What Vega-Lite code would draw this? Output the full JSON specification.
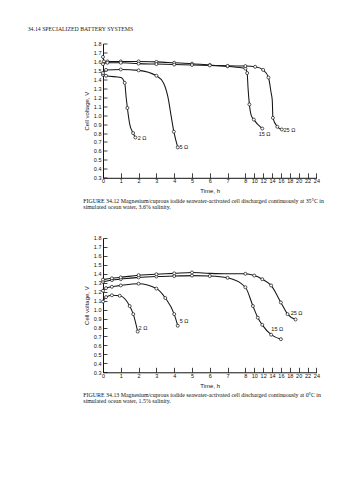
{
  "$schema": "https://vega.github.io/schema/vega-lite/v6.json",
  "background": "white",
  "padding": {"left": 27, "top": 25.5, "right": 5, "bottom": 5},
  "title": {"text": "34.14    SPECIALIZED BATTERY SYSTEMS", "anchor": "start", "frame": "group", "dx": -75.3, "font": "Liberation Serif", "fontSize": 5.8, "fontWeight": "normal", "color": "#222", "offset": 10},
  "config": {
    "view": {"stroke": null},
    "axis": {"labelFont": "Liberation Sans", "titleFont": "Liberation Sans", "labelFontSize": 5.5, "titleFontSize": 6, "titleFontWeight": "normal", "domainColor": "#111", "tickColor": "#111", "labelColor": "#111", "titleColor": "#111", "grid": false, "domainWidth": 1, "tickWidth": 0.8},
    "text": {"font": "Liberation Sans", "fontSize": 5.5, "color": "#111"}
  },
  "datasets": {
    "top": [
      {"load": "2", "t": 0, "v": 1.45, "m": 1}, {"load": "2", "t": 0.17, "v": 1.44, "m": 1}, {"load": "2", "t": 1.0, "v": 1.42, "m": 0}, {"load": "2", "t": 1.22, "v": 1.36, "m": 1}, {"load": "2", "t": 1.3, "v": 1.2, "m": 0}, {"load": "2", "t": 1.37, "v": 1.08, "m": 1}, {"load": "2", "t": 1.5, "v": 0.9, "m": 0}, {"load": "2", "t": 1.69, "v": 0.8, "m": 1}, {"load": "2", "t": 1.82, "v": 0.75, "m": 1},
      {"load": "5", "t": 0, "v": 1.47, "m": 1}, {"load": "5", "t": 0.17, "v": 1.505, "m": 1}, {"load": "5", "t": 1, "v": 1.51, "m": 1}, {"load": "5", "t": 2, "v": 1.5, "m": 1}, {"load": "5", "t": 3, "v": 1.44, "m": 1}, {"load": "5", "t": 3.4, "v": 1.36, "m": 0}, {"load": "5", "t": 3.65, "v": 1.2, "m": 0}, {"load": "5", "t": 3.82, "v": 1.0, "m": 0}, {"load": "5", "t": 3.98, "v": 0.815, "m": 1}, {"load": "5", "t": 4.2, "v": 0.64, "m": 1},
      {"load": "15", "t": 0, "v": 1.65, "m": 1}, {"load": "15", "t": 0.05, "v": 1.6, "m": 1}, {"load": "15", "t": 0.25, "v": 1.6, "m": 1}, {"load": "15", "t": 1, "v": 1.6, "m": 1}, {"load": "15", "t": 2, "v": 1.6, "m": 1}, {"load": "15", "t": 3, "v": 1.595, "m": 1}, {"load": "15", "t": 4, "v": 1.585, "m": 1}, {"load": "15", "t": 5, "v": 1.575, "m": 1}, {"load": "15", "t": 6, "v": 1.56, "m": 1}, {"load": "15", "t": 7, "v": 1.545, "m": 1}, {"load": "15", "t": 8, "v": 1.52, "m": 1}, {"load": "15", "t": 8.4, "v": 1.47, "m": 1}, {"load": "15", "t": 8.6, "v": 1.3, "m": 0}, {"load": "15", "t": 8.9, "v": 1.12, "m": 1}, {"load": "15", "t": 9.3, "v": 1.0, "m": 0}, {"load": "15", "t": 9.9, "v": 0.95, "m": 1}, {"load": "15", "t": 11.8, "v": 0.85, "m": 1},
      {"load": "25", "t": 0, "v": 1.57, "m": 1}, {"load": "25", "t": 0.25, "v": 1.585, "m": 1}, {"load": "25", "t": 1, "v": 1.585, "m": 1}, {"load": "25", "t": 2, "v": 1.575, "m": 1}, {"load": "25", "t": 3, "v": 1.57, "m": 1}, {"load": "25", "t": 4, "v": 1.565, "m": 1}, {"load": "25", "t": 5, "v": 1.56, "m": 1}, {"load": "25", "t": 6, "v": 1.555, "m": 1}, {"load": "25", "t": 7, "v": 1.55, "m": 1}, {"load": "25", "t": 8, "v": 1.548, "m": 1}, {"load": "25", "t": 10.2, "v": 1.54, "m": 1}, {"load": "25", "t": 12, "v": 1.505, "m": 1}, {"load": "25", "t": 13.2, "v": 1.42, "m": 1}, {"load": "25", "t": 13.8, "v": 1.25, "m": 0}, {"load": "25", "t": 14.05, "v": 1.17, "m": 0}, {"load": "25", "t": 14.2, "v": 0.97, "m": 1}, {"load": "25", "t": 15.2, "v": 0.87, "m": 1}, {"load": "25", "t": 16.2, "v": 0.84, "m": 1}
    ],
    "bottom": [
      {"load": "2", "t": 0, "v": 1.09, "m": 1}, {"load": "2", "t": 0.17, "v": 1.14, "m": 1}, {"load": "2", "t": 0.5, "v": 1.16, "m": 1}, {"load": "2", "t": 0.94, "v": 1.155, "m": 1}, {"load": "2", "t": 1.5, "v": 1.04, "m": 1}, {"load": "2", "t": 1.7, "v": 0.95, "m": 1}, {"load": "2", "t": 1.95, "v": 0.755, "m": 1},
      {"load": "5", "t": 0, "v": 1.21, "m": 1}, {"load": "5", "t": 0.17, "v": 1.24, "m": 1}, {"load": "5", "t": 0.5, "v": 1.255, "m": 1}, {"load": "5", "t": 1, "v": 1.27, "m": 1}, {"load": "5", "t": 2, "v": 1.29, "m": 1}, {"load": "5", "t": 3, "v": 1.235, "m": 1}, {"load": "5", "t": 3.5, "v": 1.13, "m": 1}, {"load": "5", "t": 4, "v": 0.95, "m": 1}, {"load": "5", "t": 4.2, "v": 0.82, "m": 1},
      {"load": "15", "t": 0, "v": 1.31, "m": 1}, {"load": "15", "t": 0.5, "v": 1.33, "m": 1}, {"load": "15", "t": 1, "v": 1.34, "m": 1}, {"load": "15", "t": 2, "v": 1.36, "m": 1}, {"load": "15", "t": 3, "v": 1.37, "m": 1}, {"load": "15", "t": 4, "v": 1.375, "m": 1}, {"load": "15", "t": 5, "v": 1.38, "m": 1}, {"load": "15", "t": 6, "v": 1.375, "m": 1}, {"load": "15", "t": 7, "v": 1.355, "m": 1}, {"load": "15", "t": 8, "v": 1.25, "m": 1}, {"load": "15", "t": 9.7, "v": 1.04, "m": 1}, {"load": "15", "t": 10.8, "v": 0.91, "m": 1}, {"load": "15", "t": 11.8, "v": 0.83, "m": 1}, {"load": "15", "t": 13.8, "v": 0.72, "m": 1}, {"load": "15", "t": 16, "v": 0.67, "m": 1},
      {"load": "25", "t": 0, "v": 1.335, "m": 1}, {"load": "25", "t": 0.5, "v": 1.35, "m": 1}, {"load": "25", "t": 1, "v": 1.36, "m": 1}, {"load": "25", "t": 2, "v": 1.385, "m": 1}, {"load": "25", "t": 3, "v": 1.395, "m": 1}, {"load": "25", "t": 4, "v": 1.405, "m": 1}, {"load": "25", "t": 5, "v": 1.415, "m": 1}, {"load": "25", "t": 6, "v": 1.405, "m": 0}, {"load": "25", "t": 7, "v": 1.4, "m": 0}, {"load": "25", "t": 8, "v": 1.4, "m": 1}, {"load": "25", "t": 10, "v": 1.38, "m": 1}, {"load": "25", "t": 11.8, "v": 1.34, "m": 1}, {"load": "25", "t": 13.8, "v": 1.27, "m": 1}, {"load": "25", "t": 16, "v": 1.08, "m": 1}, {"load": "25", "t": 17.5, "v": 0.95, "m": 1}, {"load": "25", "t": 19.3, "v": 0.89, "m": 1}
    ],
    "topLabels": [
      {"t": 1.95, "v": 0.745, "label": "2 Ω"}, {"t": 4.3, "v": 0.64, "label": "5 Ω"}, {"t": 11.0, "v": 0.79, "label": "15 Ω"}, {"t": 16.6, "v": 0.83, "label": "25 Ω"}
    ],
    "bottomLabels": [
      {"t": 2.0, "v": 0.8, "label": "2 Ω"}, {"t": 4.31, "v": 0.877, "label": "5 Ω"}, {"t": 13.85, "v": 0.78, "label": "15 Ω"}, {"t": 18.2, "v": 0.96, "label": "25 Ω"}
    ]
  },
  "spacing": 25.5,
  "vconcat": [
    {
      "width": 213.4,
      "height": 134.3,
      "title": {"text": ["FIGURE 34.12  Magnesium/cuprous iodide seawater-activated cell discharged continuously at 35°C in", "simulated ocean water, 3.6% salinity."], "orient": "bottom", "anchor": "start", "frame": "bounds", "font": "Liberation Serif", "fontSize": 5.9, "fontWeight": "normal", "lineHeight": 6, "offset": 4, "color": "#111"},
      "encoding": {
        "x": {"field": "t", "type": "quantitative", "scale": {"domain": [0, 8, 24], "range": [0, 142.4, 213.4]}, "axis": {"values": [0, 1, 2, 3, 4, 5, 6, 7, 8, 10, 12, 14, 16, 18, 20, 22, 24], "format": "d", "title": "Time, h", "tickSize": -5, "labelPadding": 6, "titlePadding": 3.5, "labelFlush": false}},
        "y": {"field": "v", "type": "quantitative", "scale": {"domain": [0.3, 1.8], "nice": false, "zero": false}, "axis": {"values": [0.3, 0.4, 0.5, 0.6, 0.7, 0.8, 0.9, 1.0, 1.1, 1.2, 1.3, 1.4, 1.5, 1.6, 1.7, 1.8], "format": ".1f", "title": "Cell voltage, V", "tickSize": -4, "labelPadding": 6, "titlePadding": 4, "labelFlush": false}}
      },
      "layer": [
        {"data": {"name": "top"}, "mark": {"type": "line", "interpolate": "monotone", "color": "#151515", "strokeWidth": 1.05}, "encoding": {"detail": {"field": "load"}}},
        {"data": {"name": "top"}, "transform": [{"filter": "datum.m == 1"}], "mark": {"type": "point", "shape": "circle", "size": 9, "filled": true, "fill": "white", "stroke": "#111", "strokeWidth": 0.7, "opacity": 1}},
        {"data": {"name": "topLabels"}, "mark": {"type": "text", "align": "left", "baseline": "middle"}, "encoding": {"text": {"field": "label"}}}
      ]
    },
    {
      "width": 213.4,
      "height": 134.3,
      "title": {"text": ["FIGURE 34.13  Magnesium/cuprous iodide seawater-activated cell discharged continuously at 0°C in", "simulated ocean water, 1.5% salinity."], "orient": "bottom", "anchor": "start", "frame": "bounds", "font": "Liberation Serif", "fontSize": 5.9, "fontWeight": "normal", "lineHeight": 6, "offset": 4, "color": "#111"},
      "encoding": {
        "x": {"field": "t", "type": "quantitative", "scale": {"domain": [0, 8, 24], "range": [0, 142.4, 213.4]}, "axis": {"values": [0, 1, 2, 3, 4, 5, 6, 7, 8, 10, 12, 14, 16, 18, 20, 22, 24], "format": "d", "title": "Time, h", "tickSize": -5, "labelPadding": 6, "titlePadding": 3.5, "labelFlush": false}},
        "y": {"field": "v", "type": "quantitative", "scale": {"domain": [0.3, 1.8], "nice": false, "zero": false}, "axis": {"values": [0.3, 0.4, 0.5, 0.6, 0.7, 0.8, 0.9, 1.0, 1.1, 1.2, 1.3, 1.4, 1.5, 1.6, 1.7, 1.8], "format": ".1f", "title": "Cell voltage, V", "tickSize": -4, "labelPadding": 6, "titlePadding": 4, "labelFlush": false}}
      },
      "layer": [
        {"data": {"name": "bottom"}, "mark": {"type": "line", "interpolate": "monotone", "color": "#151515", "strokeWidth": 1.05}, "encoding": {"detail": {"field": "load"}}},
        {"data": {"name": "bottom"}, "transform": [{"filter": "datum.m == 1"}], "mark": {"type": "point", "shape": "circle", "size": 9, "filled": true, "fill": "white", "stroke": "#111", "strokeWidth": 0.7, "opacity": 1}},
        {"data": {"name": "bottomLabels"}, "mark": {"type": "text", "align": "left", "baseline": "middle"}, "encoding": {"text": {"field": "label"}}}
      ]
    }
  ]
}
